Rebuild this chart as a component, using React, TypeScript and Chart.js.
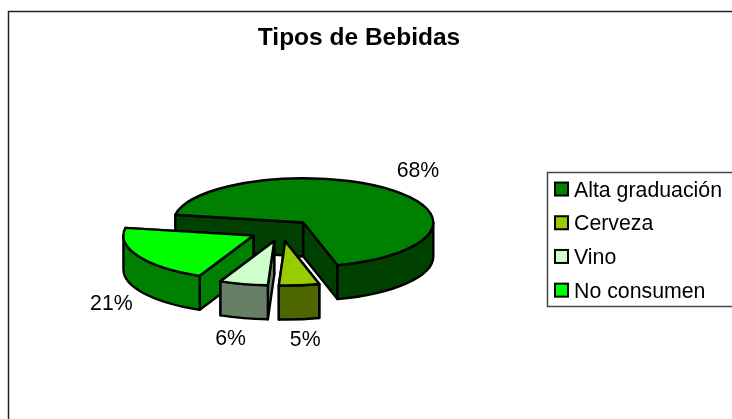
import React, { useEffect, useRef } from "react";
import { Chart, registerables } from "chart.js";

Chart.register(...registerables);

const categories = ["Alta graduación", "Cerveza", "Vino", "No consumen"];
const shares = [68, 5, 6, 21];
const topColors = ["#008000", "#99CC00", "#CCFFCC", "#00FF00"];
const sideColors = ["#004000", "#4D6600", "#668066", "#008000"];
const labelNudges = [[27, -19], [6, 55], [-13, 55], [-27, 48]];

const TILT = 0.34;
const DEPTH = 34;
const EXPLODE = 32;
const ROTATION = -80;

const pie3d = {
  id: "pie3d",
  afterLayout(chart: any) {
    chart.titleBlock.left = 0;
    chart.titleBlock.right = 718;
    const lg = chart.legend;
    lg.top += 61;
    lg.bottom += 61;
  },
  beforeDatasetsDraw(chart: any) {
    const ctx: CanvasRenderingContext2D = chart.ctx;
    const arcs = chart.getDatasetMeta(0).data;
    const layers = arcs.map((arc: any, i: number) => {
      const mid = (arc.startAngle + arc.endAngle) / 2;
      return {
        arc,
        i,
        r: arc.outerRadius,
        a0: arc.startAngle,
        a1: arc.endAngle,
        mid,
        cx: arc.x + Math.cos(mid) * EXPLODE,
        cy: arc.y + Math.sin(mid) * EXPLODE * TILT,
      };
    });
    layers.sort((a: any, b: any) => a.cy - b.cy);
    ctx.save();
    ctx.lineWidth = 2.4;
    ctx.lineJoin = "round";
    ctx.strokeStyle = "#000";
    for (const s of layers) {
      const px = (t: number) => s.cx + Math.cos(t) * s.r;
      const py = (t: number) => s.cy + Math.sin(t) * s.r * TILT;
      ctx.fillStyle = sideColors[s.i];
      // radial walls, rear one first
      const walls = [s.a0, s.a1].sort((p, q) => Math.sin(p) - Math.sin(q));
      for (const t of walls) {
        ctx.beginPath();
        ctx.moveTo(s.cx, s.cy);
        ctx.lineTo(px(t), py(t));
        ctx.lineTo(px(t), py(t) + DEPTH);
        ctx.lineTo(s.cx, s.cy + DEPTH);
        ctx.closePath();
        ctx.fill();
        ctx.stroke();
      }
      // curved outer wall, only the part facing the viewer
      const two = Math.PI * 2;
      for (const k of [-1, 0, 1]) {
        const from = Math.max(s.a0, k * two);
        const to = Math.min(s.a1, k * two + Math.PI);
        if (to <= from) continue;
        ctx.beginPath();
        ctx.ellipse(s.cx, s.cy, s.r, s.r * TILT, 0, from, to);
        ctx.lineTo(px(to), py(to) + DEPTH);
        ctx.ellipse(s.cx, s.cy + DEPTH, s.r, s.r * TILT, 0, to, from, true);
        ctx.closePath();
        ctx.fill();
        ctx.stroke();
      }
      // top face, drawn by the chart's own arc element
      ctx.save();
      ctx.translate(s.cx, s.cy);
      ctx.scale(1, TILT);
      ctx.translate(-s.arc.x, -s.arc.y);
      s.arc.draw(ctx);
      ctx.restore();
      ctx.beginPath();
      ctx.moveTo(s.cx, s.cy);
      ctx.ellipse(s.cx, s.cy, s.r, s.r * TILT, 0, s.a0, s.a1);
      ctx.closePath();
      ctx.stroke();
    }
    // percentage labels
    ctx.fillStyle = "#000";
    ctx.font = '21.3px "Liberation Sans"';
    ctx.textAlign = "center";
    ctx.textBaseline = "middle";
    for (const s of layers) {
      const [dx, dy] = labelNudges[s.i];
      ctx.fillText(
        shares[s.i] + "%",
        s.cx + Math.cos(s.mid) * s.r + dx,
        s.cy + Math.sin(s.mid) * s.r * TILT + dy
      );
    }
    ctx.restore();
    return false;
  },
  afterDraw(chart: any) {
    const ctx: CanvasRenderingContext2D = chart.ctx;
    const lg = chart.legend;
    ctx.save();
    // outer frame
    ctx.strokeStyle = "#222";
    ctx.lineWidth = 1.5;
    ctx.strokeRect(8.5, 11.5, 800, 800);
    // legend frame
    ctx.strokeStyle = "#444";
    ctx.strokeRect(547.5, 172.5, 300, 134);
    // legend swatches
    ctx.strokeStyle = "#000";
    ctx.lineWidth = 2;
    lg.legendHitBoxes.forEach((b: any, i: number) => {
      ctx.fillStyle = topColors[i];
      ctx.fillRect(555, b.top + 2.5, 13, 13);
      ctx.strokeRect(555, b.top + 2.5, 13, 13);
    });
    ctx.restore();
  },
};

export default function App() {
  const ref = useRef<HTMLCanvasElement>(null);
  useEffect(() => {
    document.body.style.margin = "0";
    document.body.style.background = "#fff";
    const chart = new Chart(ref.current as HTMLCanvasElement, {
      type: "pie",
      data: {
        labels: categories,
        datasets: [
          { data: shares, backgroundColor: topColors, borderWidth: 0 },
        ],
      },
      options: {
        responsive: false,
        animation: false,
        rotation: ROTATION,
        layout: { padding: { left: 27.5, top: 0, bottom: 58.5, right: 0 } },
        plugins: {
          tooltip: { enabled: false },
          title: {
            display: true,
            text: "Tipos de Bebidas",
            color: "#000",
            font: { family: "Liberation Sans", size: 24.5, weight: "bold" },
            padding: { top: 23.3, bottom: 47.8 },
          },
          legend: {
            position: "right",
            labels: {
              color: "#000",
              font: { family: "Liberation Sans", size: 21.3 },
              boxWidth: 15,
              boxHeight: 15,
              padding: 12.4,
              generateLabels: () =>
                categories.map((text, i) => ({
                  text,
                  index: i,
                  fillStyle: "transparent",
                  strokeStyle: "transparent",
                  lineWidth: 0,
                })),
            },
          },
        },
      },
      plugins: [pie3d],
    } as any);
    return () => chart.destroy();
  }, []);
  return (
    <canvas
      ref={ref}
      width={732}
      height={419}
      style={{ display: "block", width: 732, height: 419 }}
    />
  );
}
